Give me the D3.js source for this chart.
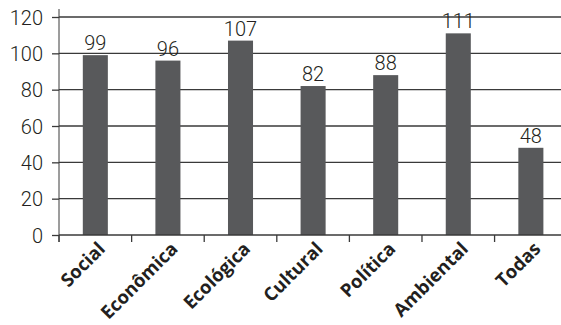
<!DOCTYPE html>
<html>
<head>
<meta charset="utf-8">
<script src="https://cdn.jsdelivr.net/npm/d3@7"></script>
<style>
  body { margin: 0; background: #fff; }
  svg { display: block; }
</style>
</head>
<body>
<svg></svg>
<script>
const width = 561;
const height = 325;

// data
const categories = ["Social", "Econômica", "Ecológica", "Cultural", "Política", "Ambiental", "Todas"];
const values = [99, 96, 107, 82, 88, 111, 48];
const yTicks = [0, 20, 40, 60, 80, 100, 120];

const margin = { top: 17, left: 59 };
const plotBottom = 235;

const svg = d3.select("svg").attr("width", width).attr("height", height);

const x = d3.scaleBand()
  .domain(categories)
  .range([margin.left, margin.left + 7 * 72.6])
  .paddingInner(0.655)
  .paddingOuter(0.328);

const y = d3.scaleLinear().domain([0, 120]).range([plotBottom, margin.top]);

// gridlines
svg.append("g")
  .selectAll("line")
  .data(yTicks.filter((d) => d > 0))
  .enter()
  .append("line")
  .attr("x1", margin.left)
  .attr("x2", width)
  .attr("y1", (d) => y(d))
  .attr("y2", (d) => y(d))
  .attr("stroke", "#3a3a3a")
  .attr("stroke-width", 1.3);

// bars
svg.append("g")
  .selectAll("rect")
  .data(values)
  .enter()
  .append("rect")
  .attr("x", (d, i) => x(categories[i]))
  .attr("y", (d) => y(d))
  .attr("width", x.bandwidth())
  .attr("height", (d) => y(0) - y(d))
  .attr("fill", "#58595b");

// value labels
svg.append("g")
  .selectAll("text")
  .data(values)
  .enter()
  .append("text")
  .attr("x", (d, i) => x(categories[i]) + x.bandwidth() / 2)
  .attr("y", (d) => y(d) - 5)
  .attr("text-anchor", "middle")
  .attr("font-family", "Roboto")
  .attr("font-weight", 300)
  .attr("font-size", 20)
  .attr("fill", "#231f20")
  .text((d) => d);

// y axis
const yAxis = svg.append("g")
  .attr("transform", `translate(${margin.left},0)`)
  .call(d3.axisLeft(y).tickValues(yTicks).tickSize(7).tickPadding(9));
yAxis.select(".domain").attr("d", `M0,9V${plotBottom + 7}`);
yAxis.selectAll("line").attr("stroke-width", 1.3);
yAxis.selectAll("path, line").attr("stroke", "#3a3a3a");
yAxis.selectAll("text")
  .attr("font-family", "Roboto")
  .attr("font-weight", 300)
  .attr("font-size", 20)
  .attr("fill", "#231f20")
  .attr("dy", "0.35em");

// x axis: baseline and band-edge ticks
const xAxis = svg.append("g").attr("transform", `translate(0,${plotBottom})`);
xAxis.append("line")
  .attr("x1", margin.left)
  .attr("x2", width)
  .attr("stroke", "#3a3a3a")
  .attr("stroke-width", 1.3);
const step = x.step();
xAxis.selectAll("line.tick")
  .data(categories)
  .enter()
  .append("line")
  .attr("class", "tick")
  .attr("x1", (d) => x(d) + x.bandwidth() / 2 - step / 2)
  .attr("x2", (d) => x(d) + x.bandwidth() / 2 - step / 2)
  .attr("y2", 7)
  .attr("stroke", "#3a3a3a")
  .attr("stroke-width", 1.3);

xAxis.selectAll("text")
  .data(categories)
  .enter()
  .append("text")
  .attr("transform", (d) => `translate(${x(d) + x.bandwidth() / 2 + 11},${15}) rotate(-45)`)
  .attr("text-anchor", "end")
  .attr("font-family", "Open Sans")
  .attr("font-weight", 700)
  .attr("font-size", 18.5)
  .attr("fill", "#231f20")
  .text((d) => d);
</script>
</body>
</html>
